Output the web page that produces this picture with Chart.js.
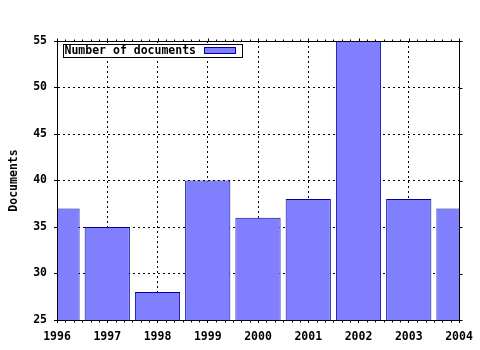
<!DOCTYPE html>
<html>
<head>
<meta charset="utf-8">
<script src="https://cdn.jsdelivr.net/npm/chart.js@4"></script>
<style>
  html, body { margin: 0; padding: 0; background: #fff; }
  #chart { display: block; }
</style>
</head>
<body>
<canvas id="chart" width="480" height="350"></canvas>
<script>
// data
const years = ['1996', '1997', '1998', '1999', '2000', '2001', '2002', '2003', '2004'];
const documents = [37, 35, 28, 40, 36, 38, 55, 38, 37];
const yTicks = [25, 30, 35, 40, 45, 50, 55];
const seriesLabel = 'Number of documents';
const yTitle = 'Documents';

const FONT = { family: "'DejaVu Sans Mono', monospace", weight: 'bold', size: 11.5 };
const FILL = '#8080ff';
const EDGE = '#0000a0';

// frame, mirror ticks, minor ticks and the boxed key, gnuplot style
const framePlugin = {
    id: 'frame',
    afterDatasetsDraw(chart) {
        const { ctx, chartArea: a, scales: { x, y } } = chart;
        const L = Math.round(a.left) + 0.5, R = Math.round(a.right) + 0.5;
        const T = Math.round(a.top) + 0.5, B = Math.round(a.bottom) + 0.5;
        ctx.save();
        ctx.strokeStyle = '#000';
        ctx.lineWidth = 1;
        ctx.setLineDash([]);
        ctx.beginPath();
        ctx.rect(L, T, R - L, B - T);

        // major ticks on top and right
        x.ticks.forEach((t, i) => {
            const px = Math.round(x.getPixelForTick(i)) + 0.5;
            ctx.moveTo(px, T); ctx.lineTo(px, T - 3);
        });
        y.ticks.forEach((t, i) => {
            const py = Math.round(y.getPixelForTick(i)) + 0.5;
            ctx.moveTo(R, py); ctx.lineTo(R + 3, py);
        });
        // minor ticks, six per year
        for (let i = 0; i < x.ticks.length - 1; i++) {
            const p0 = x.getPixelForTick(i), p1 = x.getPixelForTick(i + 1);
            for (let k = 1; k < 6; k++) {
                const px = Math.round(p0 + (p1 - p0) * k / 6) + 0.5;
                ctx.moveTo(px, B); ctx.lineTo(px, B + 2);
                ctx.moveTo(px, T); ctx.lineTo(px, T - 2);
            }
        }
        ctx.stroke();
        ctx.restore();
    },
    afterDraw(chart) {
        const { ctx } = chart;
        const ds = chart.data.datasets[0];
        ctx.save();
        ctx.fillStyle = '#fff';
        ctx.fillRect(63.5, 44.5, 179, 13);
        ctx.strokeStyle = '#000';
        ctx.lineWidth = 1;
        ctx.strokeRect(63.5, 44.5, 179, 13);
        ctx.font = `${FONT.weight} ${FONT.size}px ${FONT.family}`;
        ctx.fillStyle = '#000';
        ctx.textBaseline = 'middle';
        ctx.textAlign = 'left';
        ctx.fillText(ds.label, 64.5, 51.5);
        ctx.fillStyle = ds.backgroundColor;
        ctx.fillRect(204.5, 47.5, 31, 6);
        ctx.strokeStyle = ds.borderColor;
        ctx.strokeRect(204.5, 47.5, 31, 6);
        ctx.restore();
    }
};

const ctx = document.getElementById('chart').getContext('2d');
const chart = new Chart(ctx, {
    type: 'bar',
    data: {
        labels: years,
        datasets: [{
            label: seriesLabel,
            data: documents,
            backgroundColor: FILL,
            borderColor: EDGE,
            borderWidth: 1,
            borderSkipped: false,
            barPercentage: 0.9,
            categoryPercentage: 1.0
        }]
    },
    options: {
        responsive: false,
        animation: false,
        devicePixelRatio: 1,
        layout: { padding: { left: 0, top: 41, right: 21, bottom: 0 } },
        plugins: {
            legend: { display: false },
            tooltip: { enabled: false }
        },
        scales: {
            x: {
                type: 'category',
                offset: false,
                grid: {
                    offset: false,
                    color: '#000',
                    lineWidth: 1,
                    tickLength: 3,
                    tickColor: '#000'
                },
                border: { display: true, color: '#000', width: 1, dash: [2, 3] },
                ticks: {
                    font: FONT,
                    color: '#000',
                    padding: 7,
                    maxRotation: 0,
                    autoSkip: false
                },
                afterFit: (s) => { s.height = 30; }
            },
            y: {
                min: 25,
                max: 55,
                afterBuildTicks: (s) => { s.ticks = yTicks.map(v => ({ value: v })); },
                grid: {
                    color: '#000',
                    lineWidth: 1,
                    tickLength: 3,
                    tickColor: '#000'
                },
                border: { display: true, color: '#000', width: 1, dash: [2, 3] },
                ticks: {
                    font: FONT,
                    color: '#000',
                    padding: 7
                },
                title: {
                    display: true,
                    text: yTitle,
                    font: FONT,
                    color: '#000',
                    padding: { top: 7, bottom: 0 }
                },
                afterFit: (s) => { s.width = 57; }
            }
        }
    },
    plugins: [framePlugin]
});
</script>
</body>
</html>
